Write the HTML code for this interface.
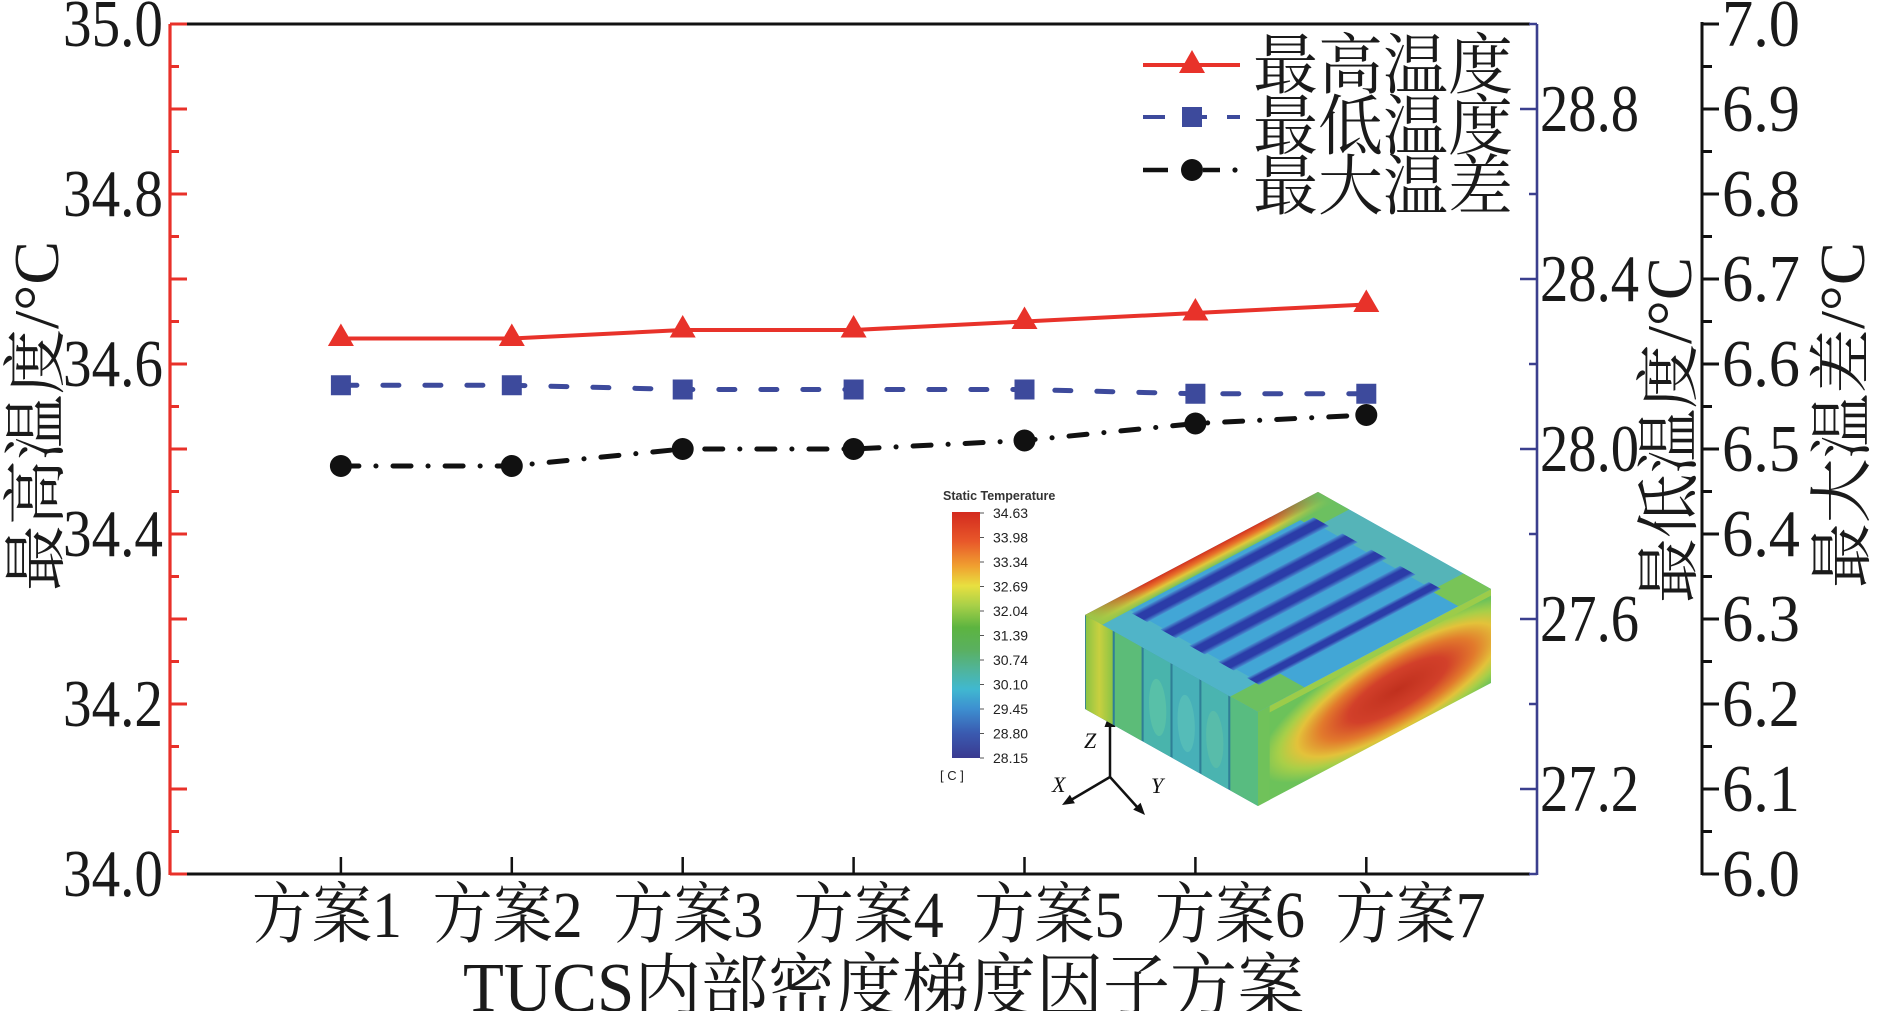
<!DOCTYPE html>
<html>
<head>
<meta charset="utf-8">
<style>
html,body{margin:0;padding:0;background:#fff;}
svg{display:block;}
</style>
</head>
<body>
<svg width="1878" height="1011" viewBox="0 0 1878 1011" xmlns="http://www.w3.org/2000/svg" font-family="'Liberation Serif','Noto Serif CJK SC',serif">
<defs>
  <linearGradient id="cb" x1="0" y1="0" x2="0" y2="1">
    <stop offset="0" stop-color="#d32a1e"/>
    <stop offset="0.12" stop-color="#e8582a"/>
    <stop offset="0.22" stop-color="#f0a030"/>
    <stop offset="0.30" stop-color="#e8e040"/>
    <stop offset="0.38" stop-color="#a8d048"/>
    <stop offset="0.47" stop-color="#5cb440"/>
    <stop offset="0.56" stop-color="#5ab060"/>
    <stop offset="0.64" stop-color="#50b49a"/>
    <stop offset="0.72" stop-color="#40b8d0"/>
    <stop offset="0.80" stop-color="#3d8fd0"/>
    <stop offset="0.90" stop-color="#3a5ab0"/>
    <stop offset="1" stop-color="#3a3a90"/>
  </linearGradient>
  <linearGradient id="band" x1="0" y1="0" x2="0" y2="1">
    <stop offset="0" stop-color="#d4321f"/>
    <stop offset="0.35" stop-color="#e8702a"/>
    <stop offset="0.65" stop-color="#e0c83a"/>
    <stop offset="1" stop-color="#78c258"/>
  </linearGradient>
  <linearGradient id="fadeA" x1="0" y1="0" x2="1" y2="0">
    <stop offset="0" stop-color="#9cc848" stop-opacity="1"/>
    <stop offset="1" stop-color="#9cc848" stop-opacity="0"/>
  </linearGradient>
  <linearGradient id="fadeB" x1="0" y1="0" x2="1" y2="0">
    <stop offset="0" stop-color="#6cc060" stop-opacity="0"/>
    <stop offset="1" stop-color="#6cc060" stop-opacity="1"/>
  </linearGradient>
  <linearGradient id="chan" x1="0" y1="0" x2="0" y2="1">
    <stop offset="0" stop-color="#4896d2"/>
    <stop offset="0.28" stop-color="#2b3ca8"/>
    <stop offset="0.72" stop-color="#2b3ca8"/>
    <stop offset="1" stop-color="#4a92d2"/>
  </linearGradient>
  <radialGradient id="rf" cx="0.6" cy="0.55" r="0.6">
    <stop offset="0" stop-color="#c0301e"/>
    <stop offset="0.35" stop-color="#d2402a"/>
    <stop offset="0.55" stop-color="#e27a2c"/>
    <stop offset="0.72" stop-color="#e3c23a"/>
    <stop offset="0.85" stop-color="#a8cf48"/>
    <stop offset="1" stop-color="#6cc25a"/>
  </radialGradient>
  <linearGradient id="slab0" x1="0" y1="0" x2="1" y2="0">
    <stop offset="0" stop-color="#8cc444"/>
    <stop offset="0.5" stop-color="#c8d040"/>
    <stop offset="1" stop-color="#8cc444"/>
  </linearGradient>
</defs>

<!-- frame lines -->
<path d="M170 24H1530 M170 874H1530" stroke="#111" stroke-width="3" fill="none"/>
<!-- x ticks -->
<path d="M340.9 874V857 M511.8 874V857 M682.7 874V857 M853.6 874V857 M1024.5 874V857 M1195.4 874V857 M1366.3 874V857" stroke="#111" stroke-width="2.5"/>

<!-- left red axis -->
<path d="M170 24V875" stroke="#e8312a" stroke-width="3.2"/>
<path d="M170 24H187 M170 66.5H179 M170 109H187 M170 151.5H179 M170 194H187 M170 236.5H179 M170 279H187 M170 321.5H179 M170 364H187 M170 406.5H179 M170 449H187 M170 491.5H179 M170 534H187 M170 576.5H179 M170 619H187 M170 661.5H179 M170 704H187 M170 746.5H179 M170 789H187 M170 831.5H179 M170 874H187" stroke="#e8312a" stroke-width="3"/>

<!-- blue axis -->
<path d="M1537 24V875" stroke="#3b3f8e" stroke-width="2.6"/>
<path d="M1520 109H1537 M1520 279H1537 M1520 449H1537 M1520 619H1537 M1520 789H1537 M1529 24H1537 M1529 194H1537 M1529 364H1537 M1529 534H1537 M1529 704H1537 M1529 874H1537" stroke="#3b3f8e" stroke-width="2.6"/>

<!-- right black axis -->
<path d="M1702 22V875" stroke="#111" stroke-width="3"/>
<path d="M1702 24H1719 M1702 66.5H1712 M1702 109H1719 M1702 151.5H1712 M1702 194H1719 M1702 236.5H1712 M1702 279H1719 M1702 321.5H1712 M1702 364H1719 M1702 406.5H1712 M1702 449H1719 M1702 491.5H1712 M1702 534H1719 M1702 576.5H1712 M1702 619H1719 M1702 661.5H1712 M1702 704H1719 M1702 746.5H1712 M1702 789H1719 M1702 831.5H1712 M1702 874H1719" stroke="#111" stroke-width="3"/>

<!-- left tick labels -->
<g font-size="67" fill="#1a1a1a" text-anchor="end">
  <text x="163" y="46" textLength="100" lengthAdjust="spacingAndGlyphs">35.0</text>
  <text x="163" y="216" textLength="100" lengthAdjust="spacingAndGlyphs">34.8</text>
  <text x="163" y="386" textLength="100" lengthAdjust="spacingAndGlyphs">34.6</text>
  <text x="163" y="556" textLength="100" lengthAdjust="spacingAndGlyphs">34.4</text>
  <text x="163" y="726" textLength="100" lengthAdjust="spacingAndGlyphs">34.2</text>
  <text x="163" y="896" textLength="100" lengthAdjust="spacingAndGlyphs">34.0</text>
</g>
<!-- blue tick labels -->
<g font-size="67" fill="#1a1a1a">
  <text x="1540" y="131" textLength="99" lengthAdjust="spacingAndGlyphs">28.8</text>
  <text x="1540" y="301" textLength="99" lengthAdjust="spacingAndGlyphs">28.4</text>
  <text x="1540" y="471" textLength="99" lengthAdjust="spacingAndGlyphs">28.0</text>
  <text x="1540" y="641" textLength="99" lengthAdjust="spacingAndGlyphs">27.6</text>
  <text x="1540" y="811" textLength="99" lengthAdjust="spacingAndGlyphs">27.2</text>
</g>
<!-- right tick labels -->
<g font-size="67" fill="#1a1a1a">
  <text x="1722" y="46" textLength="78" lengthAdjust="spacingAndGlyphs">7.0</text>
  <text x="1722" y="131" textLength="78" lengthAdjust="spacingAndGlyphs">6.9</text>
  <text x="1722" y="216" textLength="78" lengthAdjust="spacingAndGlyphs">6.8</text>
  <text x="1722" y="301" textLength="78" lengthAdjust="spacingAndGlyphs">6.7</text>
  <text x="1722" y="386" textLength="78" lengthAdjust="spacingAndGlyphs">6.6</text>
  <text x="1722" y="471" textLength="78" lengthAdjust="spacingAndGlyphs">6.5</text>
  <text x="1722" y="556" textLength="78" lengthAdjust="spacingAndGlyphs">6.4</text>
  <text x="1722" y="641" textLength="78" lengthAdjust="spacingAndGlyphs">6.3</text>
  <text x="1722" y="726" textLength="78" lengthAdjust="spacingAndGlyphs">6.2</text>
  <text x="1722" y="811" textLength="78" lengthAdjust="spacingAndGlyphs">6.1</text>
  <text x="1722" y="896" textLength="78" lengthAdjust="spacingAndGlyphs">6.0</text>
</g>

<!-- x tick labels -->
<g font-size="66" fill="#1a1a1a">
  <text x="252" y="937" textLength="150" lengthAdjust="spacingAndGlyphs">方案1</text>
  <text x="432.6" y="937" textLength="150" lengthAdjust="spacingAndGlyphs">方案2</text>
  <text x="613.2" y="937" textLength="150" lengthAdjust="spacingAndGlyphs">方案3</text>
  <text x="793.8" y="937" textLength="150" lengthAdjust="spacingAndGlyphs">方案4</text>
  <text x="974.4" y="937" textLength="150" lengthAdjust="spacingAndGlyphs">方案5</text>
  <text x="1155" y="937" textLength="150" lengthAdjust="spacingAndGlyphs">方案6</text>
  <text x="1335.6" y="937" textLength="150" lengthAdjust="spacingAndGlyphs">方案7</text>
</g>
<text x="463" y="1011" font-size="70" fill="#1a1a1a" textLength="841" lengthAdjust="spacingAndGlyphs">TUCS内部密度梯度因子方案</text>

<!-- rotated axis titles -->
<text transform="translate(58,416) rotate(-90)" text-anchor="middle" font-size="64" fill="#1a1a1a" textLength="350" lengthAdjust="spacingAndGlyphs">最高温度/°C</text>
<text transform="translate(1691,430) rotate(-90)" text-anchor="middle" font-size="64" fill="#1a1a1a" textLength="346" lengthAdjust="spacingAndGlyphs">最低温度/°C</text>
<text transform="translate(1864,415) rotate(-90)" text-anchor="middle" font-size="64" fill="#1a1a1a" textLength="346" lengthAdjust="spacingAndGlyphs">最大温差/°C</text>

<!-- data lines -->
<polyline points="340.9,338.5 511.8,338.5 682.7,330 853.6,330 1024.5,321.5 1195.4,313 1366.3,304.5" fill="none" stroke="#e8322a" stroke-width="4"/>
<polyline points="340.9,385.25 511.8,385.25 682.7,389.5 853.6,389.5 1024.5,389.5 1195.4,393.75 1366.3,393.75" fill="none" stroke="#3d4a9c" stroke-width="5" stroke-dasharray="16 26" stroke-linecap="round"/>
<polyline points="340.9,466 511.8,466 682.7,449 853.6,449 1024.5,440.5 1195.4,423.5 1366.3,415" fill="none" stroke="#111" stroke-width="5" stroke-dasharray="18 17 0.1 17" stroke-linecap="round"/>

<!-- markers -->
<g fill="#e8322a">
  <polygon points="340.9,323.5 353.9,346 327.9,346"/>
  <polygon points="511.8,323.5 524.8,346 498.8,346"/>
  <polygon points="682.7,315 695.7,337.5 669.7,337.5"/>
  <polygon points="853.6,315 866.6,337.5 840.6,337.5"/>
  <polygon points="1024.5,306.5 1037.5,329 1011.5,329"/>
  <polygon points="1195.4,298 1208.4,320.5 1182.4,320.5"/>
  <polygon points="1366.3,289.5 1379.3,312 1353.3,312"/>
</g>
<g fill="#3d4a9c">
  <rect x="330.9" y="375.25" width="20" height="20"/>
  <rect x="501.8" y="375.25" width="20" height="20"/>
  <rect x="672.7" y="379.5" width="20" height="20"/>
  <rect x="843.6" y="379.5" width="20" height="20"/>
  <rect x="1014.5" y="379.5" width="20" height="20"/>
  <rect x="1185.4" y="383.75" width="20" height="20"/>
  <rect x="1356.3" y="383.75" width="20" height="20"/>
</g>
<g fill="#111">
  <circle cx="340.9" cy="466" r="11"/>
  <circle cx="511.8" cy="466" r="11"/>
  <circle cx="682.7" cy="449" r="11"/>
  <circle cx="853.6" cy="449" r="11"/>
  <circle cx="1024.5" cy="440.5" r="11"/>
  <circle cx="1195.4" cy="423.5" r="11"/>
  <circle cx="1366.3" cy="415" r="11"/>
</g>

<!-- legend -->
<path d="M1143 65H1240" stroke="#e8322a" stroke-width="4"/>
<polygon points="1192,50 1205,73 1179,73" fill="#e8322a"/>
<path d="M1143 117H1165 M1202 117H1207 M1227 117H1240" stroke="#3d4a9c" stroke-width="4"/>
<rect x="1182" y="107" width="20" height="20" fill="#3d4a9c"/>
<path d="M1143 170H1168 M1203 170H1220" stroke="#111" stroke-width="4.5"/>
<circle cx="1192" cy="170" r="11" fill="#111"/>
<circle cx="1235" cy="170" r="2.6" fill="#111"/>
<g font-size="66" fill="#1a1a1a">
  <text x="1253" y="88" textLength="260" lengthAdjust="spacingAndGlyphs">最高温度</text>
  <text x="1253" y="149" textLength="260" lengthAdjust="spacingAndGlyphs">最低温度</text>
  <text x="1253" y="209" textLength="260" lengthAdjust="spacingAndGlyphs">最大温差</text>
</g>

<!-- inset: colorbar -->
<text x="943" y="500" font-family="'Liberation Sans',sans-serif" font-weight="bold" font-size="12.5" fill="#333">Static Temperature</text>
<rect x="952" y="512" width="28" height="246" fill="url(#cb)"/>
<path d="M980 513H984 M980 537.5H984 M980 562H984 M980 586.5H984 M980 611H984 M980 635.5H984 M980 660H984 M980 684.5H984 M980 709H984 M980 733.5H984 M980 758H984" stroke="#555" stroke-width="1"/>
<g font-family="'Liberation Sans',sans-serif" font-size="14" fill="#222">
  <text x="993" y="518">34.63</text>
  <text x="993" y="542.5">33.98</text>
  <text x="993" y="567">33.34</text>
  <text x="993" y="591.5">32.69</text>
  <text x="993" y="616">32.04</text>
  <text x="993" y="640.5">31.39</text>
  <text x="993" y="665">30.74</text>
  <text x="993" y="689.5">30.10</text>
  <text x="993" y="714">29.45</text>
  <text x="993" y="738.5">28.80</text>
  <text x="993" y="763">28.15</text>
  <text x="940" y="780" font-size="13">[ C ]</text>
</g>

<!-- inset: triad -->
<g stroke="#111" stroke-width="2.5">
  <line x1="1110" y1="777" x2="1110" y2="724"/>
  <line x1="1110" y1="777" x2="1071" y2="800"/>
  <line x1="1110" y1="777" x2="1138" y2="808"/>
</g>
<g fill="#111">
  <polygon points="1110,712 1104.5,727 1115.5,727"/>
  <polygon points="1062,805 1074.9,803.3 1069.9,794.7"/>
  <polygon points="1145,815 1133.2,809.6 1140.6,802.8"/>
</g>
<g font-style="italic" font-size="22" fill="#111">
  <text x="1084" y="748">Z</text>
  <text x="1052" y="792">X</text>
  <text x="1151" y="793">Y</text>
</g>

<!-- inset: 3D block -->
<!-- left face -->
<g transform="matrix(173,97,0,94,1085,615)">
  <rect x="0" y="0" width="1" height="1" fill="#2f7f96"/>
  <rect x="0.005" y="0" width="0.155" height="1" fill="url(#slab0)"/>
  <rect x="0.172" y="0" width="0.155" height="1" fill="#5cbc78"/>
  <rect x="0.339" y="0" width="0.155" height="1" fill="#49b4ac"/>
  <rect x="0.506" y="0" width="0.155" height="1" fill="#47b0b8"/>
  <rect x="0.673" y="0" width="0.155" height="1" fill="#4ab4b0"/>
  <rect x="0.840" y="0" width="0.16" height="1" fill="#58bc80"/>
  <ellipse cx="0.42" cy="0.55" rx="0.05" ry="0.3" fill="#58c0a8"/>
  <ellipse cx="0.585" cy="0.55" rx="0.05" ry="0.3" fill="#55bcb8"/>
  <ellipse cx="0.75" cy="0.55" rx="0.05" ry="0.3" fill="#58bcaa"/>
</g>
<!-- right face -->
<g transform="matrix(233,-123,0,94,1258,712)">
  <rect x="0" y="0" width="1" height="1" fill="url(#rf)"/>
  <rect x="0" y="0" width="1" height="0.07" fill="#9ccc4a"/>
  <rect x="0" y="0" width="0.05" height="1" fill="#70c25a"/>
</g>
<!-- top face -->
<g transform="matrix(233,-123,173,97,1085,615)">
  <rect x="0" y="0" width="1" height="1" fill="#42a6d6"/>
  <rect x="0" y="0.1" width="0.12" height="0.9" fill="#50b4c8"/>
  <rect x="0.87" y="0.1" width="0.13" height="0.9" fill="#55b4b8"/>
  <rect x="0.85" y="0" width="0.15" height="0.18" fill="#6cc060"/>
  <rect x="0" y="0.84" width="0.2" height="0.16" fill="#6cc060"/>
  <rect x="0.86" y="0.84" width="0.14" height="0.16" fill="#78c458"/>
  <rect x="0.11" y="0.122" width="0.78" height="0.09" fill="url(#chan)"/>
  <rect x="0.11" y="0.288" width="0.78" height="0.09" fill="url(#chan)"/>
  <rect x="0.11" y="0.455" width="0.78" height="0.09" fill="url(#chan)"/>
  <rect x="0.11" y="0.622" width="0.78" height="0.09" fill="url(#chan)"/>
  <rect x="0.11" y="0.788" width="0.78" height="0.07" fill="url(#chan)"/>
  <rect x="0" y="0" width="1" height="0.1" fill="url(#band)"/>
  <rect x="0" y="0" width="0.25" height="0.1" fill="url(#fadeA)"/>
  <rect x="0.75" y="0" width="0.25" height="0.1" fill="url(#fadeB)"/>
</g>
</svg>
</body>
</html>
